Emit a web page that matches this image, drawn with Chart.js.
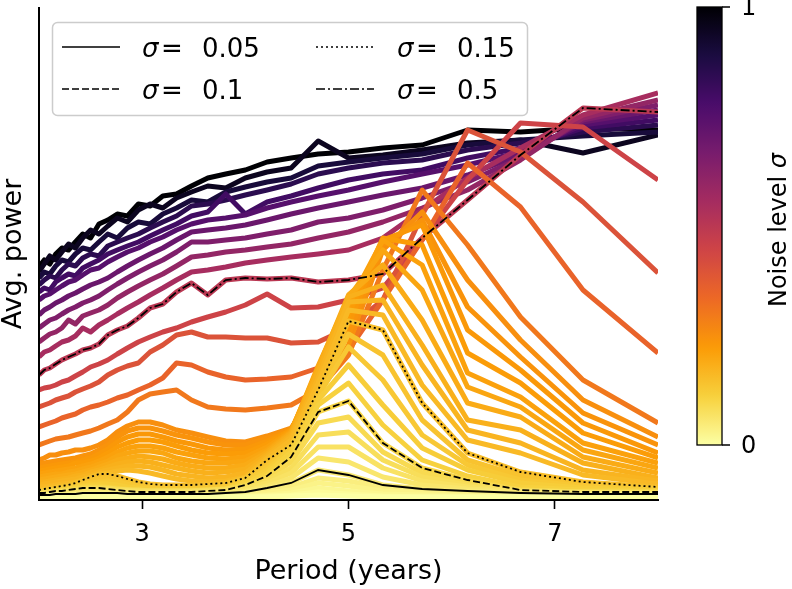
<!DOCTYPE html>
<html>
<head>
<meta charset="utf-8">
<script src="https://cdn.jsdelivr.net/npm/chart.js@4.4.1/dist/chart.umd.min.js"></script>
<style>
  html, body { margin: 0; padding: 0; background: #fff; }
  #wrap { width: 792px; height: 589px; }
</style>
</head>
<body>
<div id="wrap"><canvas id="myChart" width="792" height="589"></canvas></div>
<script>
// Perioden (Jahre) auf der x-Achse
const periods = [2.000, 2.051, 2.105, 2.162, 2.222, 2.286, 2.353, 2.424, 2.500, 2.581,
  2.667, 2.759, 2.857, 2.963, 3.077, 3.200, 3.333, 3.478, 3.636, 3.810,
  4.000, 4.211, 4.444, 4.706, 5.000, 5.333, 5.714, 6.154, 6.667, 7.273, 8.000];
const xTicks = [3, 5, 7];

// Rauschniveaus sigma
const sigmaLevels = [0, 0.01, 0.02, 0.03, 0.04, 0.05, 0.06, 0.07, 0.08, 0.09,
  0.1, 0.11, 0.12, 0.13, 0.14, 0.15, 0.16, 0.17, 0.18, 0.19, 0.2, 0.21, 0.22, 0.23, 0.24, 0.25,
  0.3, 0.35, 0.4, 0.45, 0.5, 0.55, 0.6, 0.65, 0.7, 0.75, 0.8, 0.85, 0.9, 0.95, 1];

// mittlere Leistung je sigma (willkuerliche Einheiten)
const s00 = [3,3,3,3,3,3,3,3,3,3, 3,3,3,3,3,3,3,3,3,3, 3,3,4,5,4,3,3,3,3,3, 3];
const s01 = [3,3,3,3,3,3,3,3,4,4, 4,4,3,3,3,3,3,3,3,3, 3,4,5,8,6,4,3,3,3,3, 3];
const s02 = [4,4,4,4,4,4,4,5,5,5, 5,5,4,4,4,4,4,4,4,4, 4,5,7,12,9,6,5,4,4,4, 4];
const s03 = [4,5,5,5,5,5,5,6,6,6, 6,6,5,5,5,5,5,5,5,5, 6,7,10,17,14,9,7,5,5,4, 4];
const s04 = [5,5,5,5,6,6,6,6,7,7, 7,6,6,6,5,5,5,5,5,6, 7,9,13,22,19,12,8,6,5,5, 5];
const s05 = [5,5,5,6,6,6,6,7,7,7, 7,7,6,6,6,6,6,6,6,7, 8,12,17,30,25,15,11,9,7,6, 6];
const s06 = [6,6,6,7,7,7,8,8,9,9, 9,8,8,7,7,7,7,7,7,8, 9,14,22,42,38,23,15,11,8,7, 6];
const s07 = [6,7,7,7,8,8,9,9,10,10, 10,9,9,8,8,8,8,8,8,9, 11,17,27,53,53,32,19,13,9,7, 7];
const s08 = [7,7,7,8,8,9,9,10,11,11, 11,10,10,9,9,9,9,9,9,10, 12,19,32,65,68,40,23,15,9,8, 7];
const s09 = [7,7,8,8,9,9,10,11,12,12, 12,11,10,10,9,9,9,9,10,11, 14,22,38,77,83,48,27,18,10,8, 8];
const s10 = [7,7,8,9,9,10,11,12,12,12, 11,10,9,8,8,8,8,8,9,10, 15,24,43,88,99,57,32,20,10,8, 8];
const s11 = [8,8,9,10,10,11,12,13,14,14, 13,12,11,10,9,9,9,9,10,11, 17,27,48,95,117,75,40,24,13,10, 9];
const s12 = [8,9,9,10,11,12,13,14,15,16, 16,15,13,12,11,10,10,10,11,12, 19,30,51,100,135,95,52,30,17,12, 10];
const s13 = [9,9,10,11,12,13,14,16,17,18, 19,18,16,14,13,12,12,12,13,14, 21,33,53,104,153,120,65,35,20,14, 11];
const s14 = [9,10,11,12,13,14,16,18,20,21, 22,21,19,17,15,14,13,13,14,16, 22,36,54,106,166,145,80,40,24,16, 12];
const s15 = [10,11,12,13,14,15,17,20,23,26, 26,24,21,18,16,15,15,15,16,17, 22,40,55,110,179,170,97,47,28,18, 13];
const s16 = [13,13,14,15,16,17,18,20,23,25, 27,29,30,29,27,24,21,19,18,19, 23,42,60,117,190,185,115,60,47,25, 16];
const s17 = [15,16,17,18,19,20,21,23,25,28, 30,32,34,34,33,30,26,24,22,23, 27,44,63,122,198,200,135,70,57,30, 19];
const s18 = [18,18,19,20,21,22,24,25,28,30, 33,36,38,39,38,35,32,29,27,28, 31,46,65,128,203,215,155,80,70,37, 22];
const s19 = [20,21,22,23,24,25,26,28,30,33, 36,40,42,44,43,41,37,34,32,32, 35,48,67,132,205,235,180,97,83,43, 27];
const s20 = [23,24,25,26,26,28,29,31,33,36, 39,44,47,49,49,47,42,39,37,37, 39,50,68,134,202,250,210,113,93,50, 32];
const s21 = [26,27,28,29,30,31,32,34,36,39, 43,48,52,54,54,52,48,45,42,41, 43,53,69,132,195,260,235,127,103,57, 37];
const s22 = [29,30,31,32,33,34,37,37,39,42, 47,53,57,60,60,58,54,50,47,46, 47,56,70,128,185,262,255,147,117,67, 42];
const s23 = [32,33,34,35,36,37,38,40,42,46, 51,58,63,66,66,63,59,56,52,50, 51,59,70,122,175,260,275,170,130,77, 47];
const s24 = [36,37,38,39,40,41,42,44,46,50, 55,63,69,72,72,69,65,62,58,55, 55,62,71,115,165,255,280,193,143,87, 55];
const s25 = [40,42,45,45,47,48,50,50,52,55, 60,68,74,78,78,75,70,67,63,59, 58,64,72,108,155,250,288,220,160,100, 63];
const s30 = [55,57,59,61,62,63,65,67,69,72, 76,80,88,100,106,108,110,100,93,91, 90,92,95,110,145,230,310,255,183,120, 77];
const s35 = [73,75,77,79,82,84,86,90,93,95, 98,102,105,110,115,122,137,135,128,123, 120,121,123,132,150,200,260,337,293,210, 147];
const s40 = [93,95,97,100,102,104,108,111,114,118, 125,130,134,137,148,155,165,168,163,163, 162,162,157,158,172,200,285,370,348,298, 227];
const s45 = [110,112,113,115,118,120,124,128,133,136, 140,146,152,158,163,168,172,178,183,188, 195,206,192,193,200,212,260,320,377,373, 320];
const s50 = [125,130,132,136,140,143,146,150,152,156, 165,170,174,182,192,196,208,217,205,220, 222,221,222,218,220,226,262,300,345,392, 388];
const s55 = [143,148,150,154,158,160,164,172,168,175, 180,186,192,198,205,212,220,228,230,233, 237,240,243,246,250,262,290,322,352,385, 407];
const s60 = [158,162,166,168,172,180,176,184,187,190, 195,202,208,214,220,226,234,243,245,248, 250,253,256,262,268,278,292,310,340,382, 400];
const s65 = [172,176,180,182,186,190,193,197,200,204, 210,216,222,228,234,240,248,258,258,260, 262,266,270,278,282,290,302,318,342,380, 395];
const s70 = [185,190,193,197,200,204,207,211,215,218, 222,228,234,240,246,252,260,268,270,272, 275,280,286,292,298,305,312,325,345,378, 390];
const s75 = [200,204,206,210,214,218,220,225,230,232, 238,243,248,252,258,263,270,276,280,282, 285,292,298,304,310,318,326,335,348,375, 385];
const s80 = [208,212,210,218,222,226,224,232,236,240, 246,250,254,258,264,270,276,284,288,306, 286,298,304,312,320,326,330,342,352,372, 380];
const s85 = [215,220,224,222,230,236,234,242,246,244, 254,258,262,266,272,278,284,294,296,300, 305,310,316,326,332,337,340,350,357,368, 375];
const s90 = [222,228,226,234,240,238,246,252,250,258, 266,262,272,278,276,286,292,300,298,308, 313,318,322,334,338,342,346,355,360,364, 368];
const s95 = [228,236,244,240,248,256,252,262,270,266, 274,282,278,290,296,292,302,308,314,312, 322,328,332,359,342,345,350,357,360,347, 365];
const s100 = [233,240,236,246,252,250,258,266,262,276, 280,286,284,296,294,304,306,314,322,326, 330,338,342,346,348,352,355,370,368,372, 370];

const seriesList = [s00, s01, s02, s03, s04, s05, s06, s07, s08, s09, s10, s11, s12, s13, s14, s15,
  s16, s17, s18, s19, s20, s21, s22, s23, s24, s25, s30, s35, s40, s45, s50,
  s55, s60, s65, s70, s75, s80, s85, s90, s95, s100];

// hervorgehobene Kurven (schwarz)
const refSigmas = [0.05, 0.1, 0.15, 0.5];
const refLabels = ['0.05', '0.1', '0.15', '0.5'];
const refDashes = [[], [7, 3], [2, 3], [9, 3, 2, 3]];

// Farbskala inferno
const infernoStops = ['#000004', '#1b0c41', '#4a0c6b', '#781c6d', '#a52c60',
  '#cf4446', '#ed6925', '#fb9b06', '#f7d13d', '#fcffa4'];

function hexToRgb(h) {
    return [parseInt(h.slice(1, 3), 16), parseInt(h.slice(3, 5), 16), parseInt(h.slice(5, 7), 16)];
}
function inferno(t) {
    t = Math.min(1, Math.max(0, t));
    let pos = t * (infernoStops.length - 1);
    let i = Math.min(Math.floor(pos), infernoStops.length - 2);
    let f = pos - i;
    let a = hexToRgb(infernoStops[i]);
    let b = hexToRgb(infernoStops[i + 1]);
    let c = a.map((v, k) => Math.round(v + (b[k] - v) * f));
    return 'rgb(' + c.join(',') + ')';
}
function sigmaColor(s) {
    return inferno(1 - s);
}
function toPoints(arr) {
    return arr.map((v, i) => ({ x: periods[i], y: v }));
}

const FONT = 'DejaVu Sans';

// Legende im Diagramm (2 Spalten)
const insideLegend = {
    id: 'insideLegend',
    afterDraw(chart) {
        const ctx = chart.ctx;
        ctx.save();
        ctx.beginPath();
        ctx.roundRect(52.5, 22.5, 475, 93, 5);
        ctx.fillStyle = 'rgba(255,255,255,0.8)';
        ctx.fill();
        ctx.strokeStyle = '#cccccc';
        ctx.lineWidth = 1.5;
        ctx.stroke();

        const cols = [{ lx: 62, tx: 142 }, { lx: 316, tx: 397 }];
        const rows = [47, 89];
        for (let i = 0; i < refLabels.length; i++) {
            let col = cols[Math.floor(i / 2)];
            let y = rows[i % 2];
            ctx.beginPath();
            ctx.setLineDash(refDashes[i]);
            ctx.strokeStyle = '#000';
            ctx.lineWidth = 1.7;
            ctx.moveTo(col.lx, y);
            ctx.lineTo(col.lx + 58, y);
            ctx.stroke();
            ctx.setLineDash([]);
            ctx.fillStyle = '#000';
            ctx.textBaseline = 'alphabetic';
            ctx.textAlign = 'left';
            ctx.font = 'italic 26px "' + FONT + '"';
            ctx.fillText('σ', col.tx, y + 10);
            ctx.font = '26px "' + FONT + '"';
            ctx.fillText('=', col.tx + 19, y + 10);
            ctx.fillText(refLabels[i], col.tx + 60, y + 10);
        }
        ctx.restore();
    }
};

// Farbbalken rechts
const colorBar = {
    id: 'colorBar',
    afterDraw(chart) {
        const ctx = chart.ctx;
        const x0 = 697, x1 = 722, yTop = 7, yBot = 445;
        ctx.save();
        let grad = ctx.createLinearGradient(0, yBot, 0, yTop);
        for (let i = 0; i <= 60; i++) {
            grad.addColorStop(i / 60, sigmaColor(i / 60));
        }
        ctx.fillStyle = grad;
        ctx.fillRect(x0, yTop, x1 - x0, yBot - yTop);
        ctx.strokeStyle = '#000';
        ctx.lineWidth = 1.3;
        ctx.strokeRect(x0, yTop, x1 - x0, yBot - yTop);

        ctx.fillStyle = '#000';
        ctx.font = '24px "' + FONT + '"';
        ctx.textAlign = 'left';
        ctx.textBaseline = 'middle';
        [0, 1].forEach(v => {
            let y = yBot - v * (yBot - yTop);
            ctx.beginPath();
            ctx.lineWidth = 1.5;
            ctx.moveTo(x1, y);
            ctx.lineTo(x1 + 8, y);
            ctx.stroke();
            ctx.fillText(String(v), 741, y + 2);
        });

        ctx.translate(780, 230);
        ctx.rotate(-Math.PI / 2);
        ctx.font = '24px "' + FONT + '"';
        let w1 = ctx.measureText('Noise level ').width;
        ctx.font = 'italic 24px "' + FONT + '"';
        let w2 = ctx.measureText('σ').width;
        let start = -(w1 + w2) / 2;
        ctx.font = '24px "' + FONT + '"';
        ctx.fillText('Noise level ', start, 0);
        ctx.font = 'italic 24px "' + FONT + '"';
        ctx.fillText('σ', start + w1, 0);
        ctx.restore();
    }
};

// Datensaetze: schwarze Referenzlinien zuerst (liegen oben), dann farbige
let datasets = [];
refSigmas.forEach((s, i) => {
    datasets.push({
        data: toPoints(seriesList[sigmaLevels.indexOf(s)]),
        borderColor: '#000',
        borderWidth: 1.8,
        borderDash: refDashes[i],
        pointRadius: 0,
        tension: 0,
        clip: 0
    });
});
sigmaLevels.forEach((s, i) => {
    datasets.push({
        data: toPoints(seriesList[i]),
        borderColor: sigmaColor(s),
        borderWidth: 5,
        borderJoinStyle: 'round',
        pointRadius: 0,
        tension: 0,
        clip: 0
    });
});

const ctx = document.getElementById('myChart').getContext('2d');
const myChart = new Chart(ctx, {
    type: 'line',
    data: { datasets: datasets },
    options: {
        responsive: false,
        devicePixelRatio: 1,
        animation: false,
        events: [],
        layout: { padding: { left: 0, right: 134, top: 8, bottom: 0 } },
        plugins: {
            legend: { display: false },
            tooltip: { enabled: false }
        },
        scales: {
            x: {
                type: 'linear',
                min: 2,
                max: 8,
                afterBuildTicks: (scale) => { scale.ticks = xTicks.map(v => ({ value: v })); },
                afterFit: (scale) => { scale.height = 89; },
                grid: { display: true, drawOnChartArea: false, drawTicks: true, tickLength: 9, tickWidth: 1.6, tickColor: '#000' },
                border: { display: true, color: '#000', width: 2, z: 1 },
                ticks: { color: '#000', font: { family: FONT, size: 24 }, padding: 11, maxRotation: 0 },
                title: { display: true, text: 'Period (years)', color: '#000', font: { family: FONT, size: 27 }, padding: { top: 0, bottom: 1 } }
            },
            y: {
                type: 'linear',
                min: 0,
                max: 492,
                afterFit: (scale) => { scale.width = 39; },
                grid: { display: false },
                border: { display: true, color: '#000', width: 2, z: 1 },
                ticks: { display: false },
                title: { display: true, text: 'Avg. power', color: '#000', font: { family: FONT, size: 27, lineHeight: 1 }, padding: { top: 0, bottom: 0 } }
            }
        }
    },
    plugins: [insideLegend, colorBar]
});
</script>
</body>
</html>
